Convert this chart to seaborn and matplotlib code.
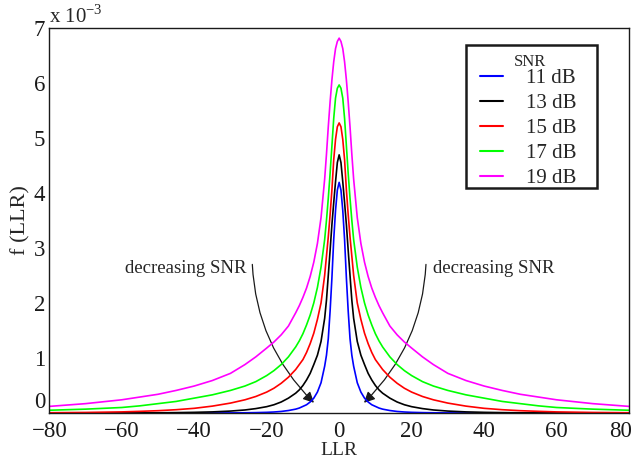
import numpy as np
import pandas as pd
import matplotlib
matplotlib.use("Agg")
import matplotlib.pyplot as plt
import matplotlib.transforms as mtransforms
import seaborn as sns
from matplotlib.patches import FancyArrowPatch, Rectangle

# positive half of the LLR axis (curves are symmetric about 0), values in units of 1e-3
llr_half = [0, 0.5, 1, 1.5, 2, 2.5, 3, 3.5, 4, 5, 6, 7, 8, 9, 10, 11, 12, 14, 16, 18,
            20, 23, 26, 30, 35, 40, 45, 50, 55, 60, 70, 80]
f_11dB = [4.19, 4.05, 3.68, 3.15, 2.45, 1.85, 1.35, 1.05, 0.85, 0.55, 0.38, 0.27, 0.20, 0.15,
          0.12, 0.09, 0.07, 0.045, 0.028, 0.018, 0.012, 0.007, 0.004, 0.002, 0.001, 0, 0, 0, 0, 0, 0, 0]
f_13dB = [4.69, 4.55, 4.20, 3.82, 3.42, 2.95, 2.50, 2.05, 1.72, 1.30, 1.05, 0.88, 0.72, 0.60,
          0.50, 0.42, 0.36, 0.27, 0.20, 0.15, 0.115, 0.08, 0.055, 0.035, 0.02, 0.012, 0.007,
          0.004, 0.002, 0.001, 0, 0]
f_15dB = [5.27, 5.20, 4.97, 4.60, 4.05, 3.60, 3.20, 2.85, 2.50, 2.00, 1.70, 1.45, 1.26, 1.10,
          0.97, 0.88, 0.79, 0.65, 0.54, 0.45, 0.38, 0.30, 0.24, 0.18, 0.125, 0.085, 0.06, 0.042,
          0.03, 0.02, 0.01, 0.005]
f_17dB = [5.96, 5.90, 5.72, 5.35, 4.85, 4.35, 3.90, 3.50, 3.15, 2.65, 2.28, 2.00, 1.78, 1.60,
          1.44, 1.31, 1.20, 1.02, 0.88, 0.77, 0.68, 0.57, 0.49, 0.41, 0.33, 0.27, 0.21, 0.17,
          0.13, 0.10, 0.07, 0.05]
f_19dB = [6.81, 6.75, 6.62, 6.38, 6.05, 5.65, 5.20, 4.70, 4.25, 3.55, 3.08, 2.74, 2.48, 2.27,
          2.10, 1.95, 1.82, 1.58, 1.42, 1.29, 1.18, 1.02, 0.88, 0.72, 0.59, 0.49, 0.41, 0.34,
          0.29, 0.24, 0.17, 0.12]

snr_labels = ["11 dB", "13 dB", "15 dB", "17 dB", "19 dB"]
line_colors = ["#0000ff", "#000000", "#ff0000", "#00ff00", "#ff00ff"]

rows = []
for lab, vals in zip(snr_labels, [f_11dB, f_13dB, f_15dB, f_17dB, f_19dB]):
    xs = [-v for v in llr_half[:0:-1]] + llr_half
    ys = vals[:0:-1] + vals
    for x, y in zip(xs, ys):
        rows.append({"LLR": x, "f": y * 1e-3, "SNR": lab})
df = pd.DataFrame(rows)

sns.set_theme(style="white")
plt.rcParams["font.family"] = ["Liberation Serif", "DejaVu Serif"]
plt.rcParams["mathtext.fontset"] = "custom"
plt.rcParams["mathtext.rm"] = "Liberation Serif"

fig = plt.figure(figsize=(6.35, 4.62), dpi=100)
ax = fig.add_axes([49.3 / 635, 1 - 413 / 462, (629 - 49.3) / 635, (413 - 27.7) / 462])

sns.lineplot(data=df, x="LLR", y="f", hue="SNR", hue_order=snr_labels,
             palette=dict(zip(snr_labels, line_colors)), linewidth=1.2, ax=ax,
             legend=False)

ax.set_xlim(-80, 80)
ax.set_ylim(0, 0.007)
ax.set_xticks(np.arange(-80, 81, 20))
ax.set_yticks(np.arange(0, 0.0071, 0.001))
ax.set_yticklabels([str(i) for i in range(8)])
ax.tick_params(direction="in", length=5, width=0.8, colors="k", labelsize=16.5,
               top=False, right=False)
ax.tick_params(axis="x", pad=6)
ax.tick_params(axis="y", pad=3)
ax.get_yticklabels()[0].set_va("bottom")
# keep the last x label inside the figure, like the original
last = ax.get_xticklabels()[-1]
last.set_transform(last.get_transform() +
                   mtransforms.ScaledTranslation(-0.08, 0, fig.dpi_scale_trans))
for s in ax.spines.values():
    s.set_color("k")
    s.set_linewidth(1.0)

ax.set_xlabel("LLR", fontsize=14, labelpad=0)
ax.set_ylabel("f (LLR)", fontsize=16, labelpad=2)
ax.text(0.0, 1.0, r"x 10$^{-3}$", transform=ax.transAxes, fontsize=15,
        ha="left", va="bottom")

# legend: box, title and entries
ax.add_patch(Rectangle((0.7188, 0.584), 0.226, 0.371, transform=ax.transAxes,
                       facecolor="white", edgecolor="k", lw=1.8, zorder=4.5))
ax.text(0.829, 0.911, "SNR", transform=ax.transAxes, fontsize=12,
        ha="center", va="center", zorder=6)
leg = ax.legend(ax.lines[:5], snr_labels, loc="upper left", bbox_to_anchor=(0.736, 0.904),
                frameon=False, fontsize=15, handlelength=1.1, handletextpad=1.1,
                labelspacing=0.26, borderpad=0.2, borderaxespad=0)
leg.set_zorder(6)
for h in leg.legend_handles:
    h.set_linewidth(1.5)

# curved annotation arrows
ax.text(-25.7, 2.62e-3, "decreasing SNR", fontsize=13.5, ha="right", va="center")
ax.text(25.9, 2.62e-3, "decreasing SNR", fontsize=13.5, ha="left", va="center")
ax.add_patch(FancyArrowPatch((-24, 2.75e-3), (-6.4, 0.15e-3),
                             connectionstyle="arc3,rad=0.2", arrowstyle="-|>",
                             mutation_scale=16, lw=0.9, color="k"))
ax.add_patch(FancyArrowPatch((24, 2.75e-3), (6.3, 0.15e-3),
                             connectionstyle="arc3,rad=-0.2", arrowstyle="-|>",
                             mutation_scale=16, lw=0.9, color="k"))

fig.savefig("out.png", dpi=100)
